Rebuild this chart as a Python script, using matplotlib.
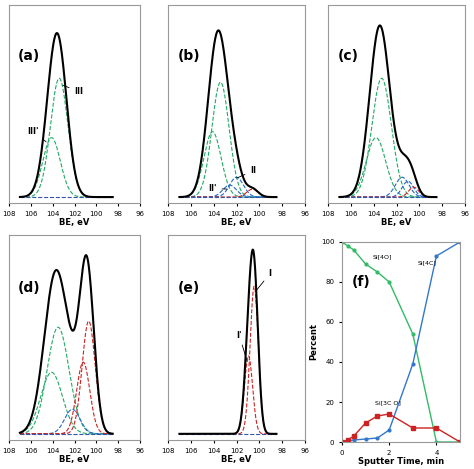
import numpy as np
import matplotlib
matplotlib.use('Agg')
import matplotlib.pyplot as plt

# fitted components per panel: (centre eV, height, sigma, colour)
comp_a = [(103.4, 0.60, 0.8, 'g'), (104.1, 0.30, 0.8, 'g')]
comp_b = [(103.4, 0.58, 0.75, 'g'), (104.1, 0.33, 0.75, 'g'), (102.0, 0.10, 0.6, 'b'),
          (102.6, 0.06, 0.6, 'b'), (100.6, 0.04, 0.5, 'r')]
comp_c = [(103.3, 0.60, 0.85, 'g'), (103.8, 0.30, 0.85, 'g'), (101.5, 0.10, 0.6, 'b'),
          (101.0, 0.08, 0.5, 'b'), (100.5, 0.05, 0.45, 'r')]
comp_d = [(103.5, 0.52, 1.0, 'g'), (104.1, 0.30, 1.0, 'g'), (102.2, 0.12, 0.7, 'b'),
          (101.2, 0.35, 0.6, 'r'), (100.7, 0.55, 0.6, 'r')]
comp_e = [(100.45, 0.72, 0.36, 'r'), (100.95, 0.38, 0.36, 'r')]

t = [0, 0.25, 0.5, 1, 1.5, 2, 3, 4, 5]
si4o = [100, 98, 96, 89, 85, 80, 54, 0, 0]
si4c = [0, 0.5, 1, 1.5, 2, 6, 39, 93, 100]
si3co = [0, 1, 3, 9.5, 13, 14, 7, 7, 0]

cols = {'g': '#22aa66', 'b': '#2266cc', 'r': '#cc2222'}
W, H = 474, 469
fig = plt.figure(figsize=(W / 100, H / 100), dpi=100)

def spec(rect, comps, label, notes=()):
    ax = fig.add_axes(rect)
    x = np.linspace(107, 98.5, 400)
    base = 0.03
    tot = np.full_like(x, base)
    for c, h, s, k in comps:
        y = h * np.exp(-(x - c) ** 2 / (2 * s ** 2))
        tot += y
        ax.plot(x, y + base, ls='--', lw=0.8, color=cols[k])
    ax.plot(x, np.full_like(x, base), color='#3355aa', lw=0.8, ls='--')
    ax.plot(x, tot, color='black', lw=1.5)
    ax.set_xlim(108, 96)
    ax.set_ylim(0, 1.0)
    ax.set_yticks([])
    ax.set_xticks(range(108, 95, -2))
    ax.tick_params(labelsize=5, length=2)
    ax.set_xlabel('BE, eV', fontsize=6, fontweight='bold', labelpad=1)
    for s in ax.spines.values():
        s.set_color('#999999')
    ax.text(0.07, 0.72, label, transform=ax.transAxes, fontsize=10, fontweight='bold')
    for txt, xy, xyt in notes:
        ax.annotate(txt, xy=xy, xytext=xyt, fontsize=6, fontweight='bold',
                    arrowprops=dict(arrowstyle='-', lw=0.6))
    return ax

def r(x0, y0, x1, y1):
    return [x0 / W, 1 - y1 / H, (x1 - x0) / W, (y1 - y0) / H]

spec(r(9, 5, 140, 203), comp_a, '(a)', [('III', (103.3, 0.6), (102.0, 0.55)),
                                        ('III\'', (104.4, 0.3), (106.3, 0.35))])
spec(r(168, 5, 305, 203), comp_b, '(b)', [('II', (102.2, 0.12), (100.8, 0.15)),
                                          ('II\'', (102.6, 0.07), (104.5, 0.06))])
spec(r(328, 5, 465, 203), comp_c, '(c)')
spec(r(9, 235, 140, 440), comp_d, '(d)')
spec(r(168, 235, 305, 440), comp_e, '(e)', [('I', (100.4, 0.72), (99.2, 0.8)),
                                            ('I\'', (101.0, 0.37), (102.0, 0.5))])

ax = fig.add_axes(r(342, 242, 460, 442))
ax.plot(t, si4o, color='#33bb66', marker='o', ms=2, lw=1)
ax.plot(t, si4c, color='#3377cc', marker='o', ms=2, lw=1)
ax.plot(t, si3co, color='#cc2222', marker='s', ms=2.5, lw=1)
ax.set_xlim(0, 5)
ax.set_ylim(0, 100)
ax.set_xticks([0, 2, 4])
ax.set_yticks(range(0, 101, 20))
ax.tick_params(labelsize=5, length=2)
for s in ax.spines.values():
    s.set_color('#999999')
ax.set_xlabel('Sputter Time, min', fontsize=6, fontweight='bold', labelpad=1)
ax.set_ylabel('Percent', fontsize=6, fontweight='bold', labelpad=2)
ax.text(0.08, 0.78, '(f)', transform=ax.transAxes, fontsize=10, fontweight='bold')
ax.text(1.3, 92, 'Si[4O]', fontsize=4.5)
ax.text(3.2, 89, 'Si[4C]', fontsize=4.5)
ax.text(1.4, 19, 'Si[3C O]', fontsize=4.5)

fig.savefig('out.png', dpi=100)
